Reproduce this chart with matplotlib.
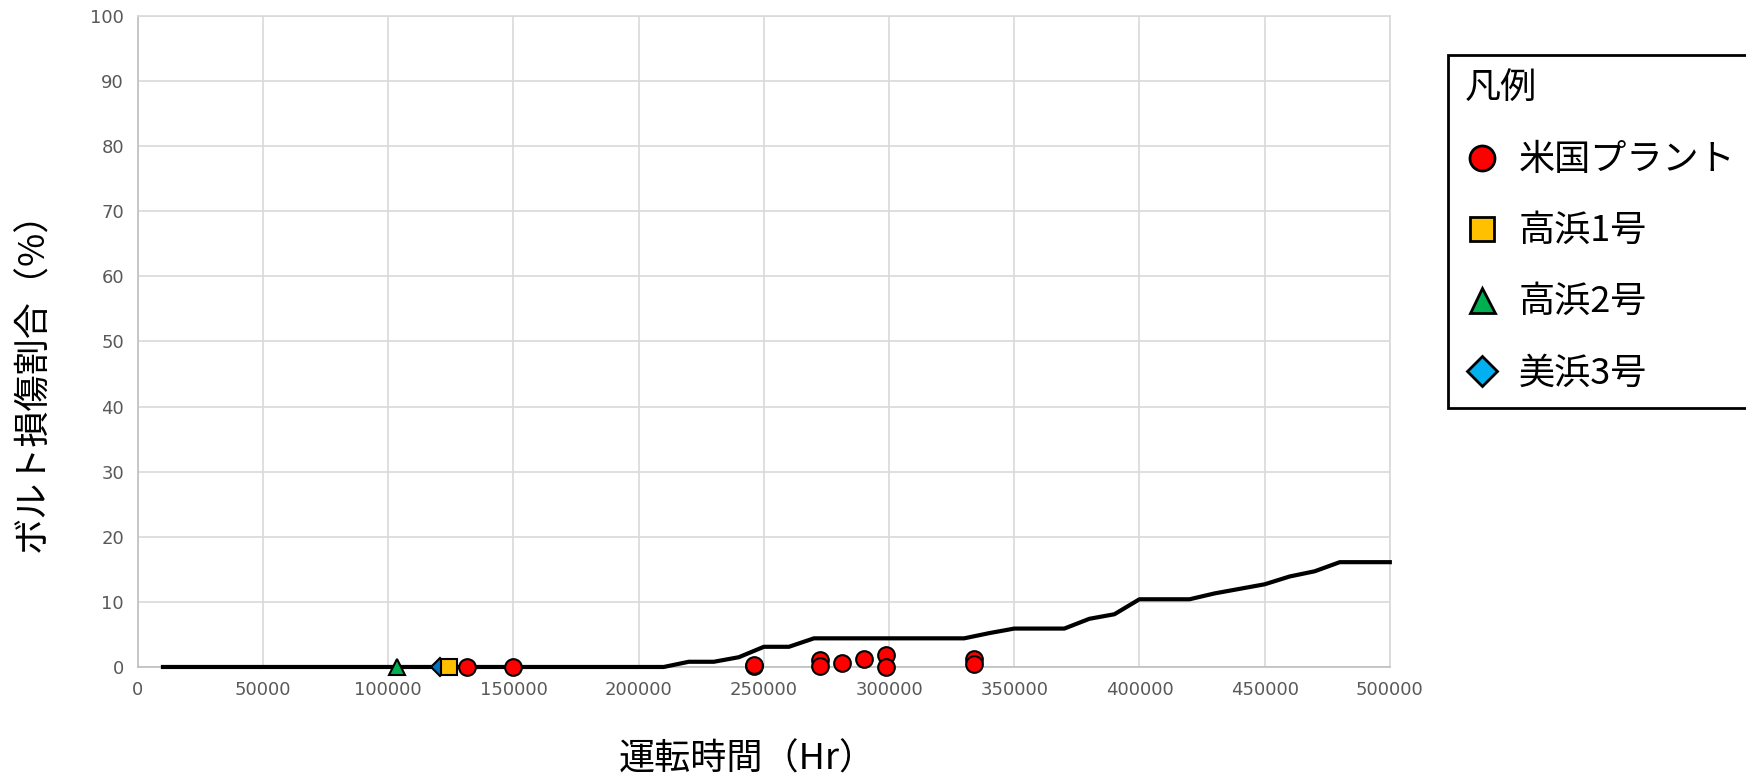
import matplotlib
matplotlib.use('Agg')
import matplotlib.pyplot as plt
from matplotlib.lines import Line2D

# Step 1: chart data
curve_hours = list(range(10000, 510000, 10000))
curve_pct = [0.0] * 21 + [0.8, 0.8, 1.5, 3.1, 3.1, 4.4, 4.4, 4.4, 4.4, 4.4, 4.4, 4.4,
                          5.2, 5.9, 5.9, 5.9, 7.4, 8.1, 10.4, 10.4, 10.4, 11.3, 12.0,
                          12.7, 13.9, 14.7, 16.1, 16.1, 16.1]

us_hours = [131600, 149700, 246100, 246100, 272300, 272300, 281300, 289800, 298700, 298700, 334100, 334100]
us_pct = [0.0, 0.0, 0.1, 0.3, 1.0, 0.15, 0.65, 1.3, 1.85, 0.0, 1.2, 0.4]

takahama1_hours = [124200]
takahama1_pct = [0.0]
takahama2_hours = [103300]
takahama2_pct = [0.0]
mihama3_hours = [120600]
mihama3_pct = [0.0]

legend_labels = ['米国プラント', '高浜1号', '高浜2号', '美浜3号']
x_ticks = list(range(0, 550000, 50000))
y_ticks = list(range(0, 110, 10))

JP = ['Noto Sans CJK JP', 'DejaVu Sans']


def draw_chart():
    fig = plt.figure(figsize=(17.46, 7.79), dpi=100)
    ax = fig.add_axes([0.079, 0.1438, 0.717, 0.8357])

    # grid
    ax.set_xlim(0, 500000)
    ax.set_ylim(0, 100)
    ax.set_xticks(x_ticks)
    ax.set_yticks(y_ticks)
    ax.grid(True, color='#D9D9D9', linewidth=1.2)
    ax.set_axisbelow(True)
    for side in ['top', 'right']:
        ax.spines[side].set_color('#D9D9D9')
        ax.spines[side].set_linewidth(1.2)
    for side in ['left', 'bottom']:
        ax.spines[side].set_color('#BFBFBF')
        ax.spines[side].set_linewidth(1.2)
    ax.tick_params(length=0, labelsize=13, labelcolor='#595959', pad=10)
    ax.set_xticklabels([str(t) for t in x_ticks])

    # curve and plant points
    ax.plot(curve_hours, curve_pct, color='black', linewidth=3, zorder=3, clip_on=False)
    mk = dict(linestyle='none', markeredgecolor='black', markeredgewidth=1.5, zorder=4, clip_on=False)
    ax.plot(takahama2_hours, takahama2_pct, marker='^', markersize=12, markerfacecolor='#00B050', **mk)
    ax.plot(mihama3_hours, mihama3_pct, marker='D', markersize=9, markerfacecolor='#0070C0', **mk)
    ax.plot(takahama1_hours, takahama1_pct, marker='s', markersize=11, markerfacecolor='#FFC000', **mk)
    ax.plot(us_hours, us_pct, marker='o', markersize=12, markerfacecolor='#FF0000', **mk)

    # axis labels
    fig.text(0.428, 0.0244, '運転時間（Hr）', fontsize=26, family=JP, ha='center', va='center')
    fig.text(0.019, 0.521, 'ボルト損傷割合（%）', fontsize=26, family=JP, rotation=90,
             ha='center', va='center')

    # legend
    lk = dict(linestyle='none', markeredgecolor='black', markeredgewidth=2)
    handles = [
        Line2D([], [], marker='o', markersize=18, markerfacecolor='#FF0000', **lk),
        Line2D([], [], marker='s', markersize=17, markerfacecolor='#FFC000', **lk),
        Line2D([], [], marker='^', markersize=18, markerfacecolor='#00B050', **lk),
        Line2D([], [], marker='D', markersize=15, markerfacecolor='#00B0F0', **lk),
    ]
    leg = fig.legend(handles, legend_labels, loc='upper left',
                     bbox_to_anchor=(1448 / 1746, 1 - 55 / 779),
                     title='凡例', alignment='left', fancybox=False, framealpha=1,
                     edgecolor='black', handlelength=1.0, handletextpad=0.5,
                     borderpad=0.45, labelspacing=0.97, borderaxespad=0,
                     prop={'family': JP, 'size': 26},
                     title_fontproperties={'family': JP, 'size': 26})
    leg.get_frame().set_linewidth(2)

    fig.savefig('out.png', dpi=100)


if __name__ == '__main__':
    draw_chart()
